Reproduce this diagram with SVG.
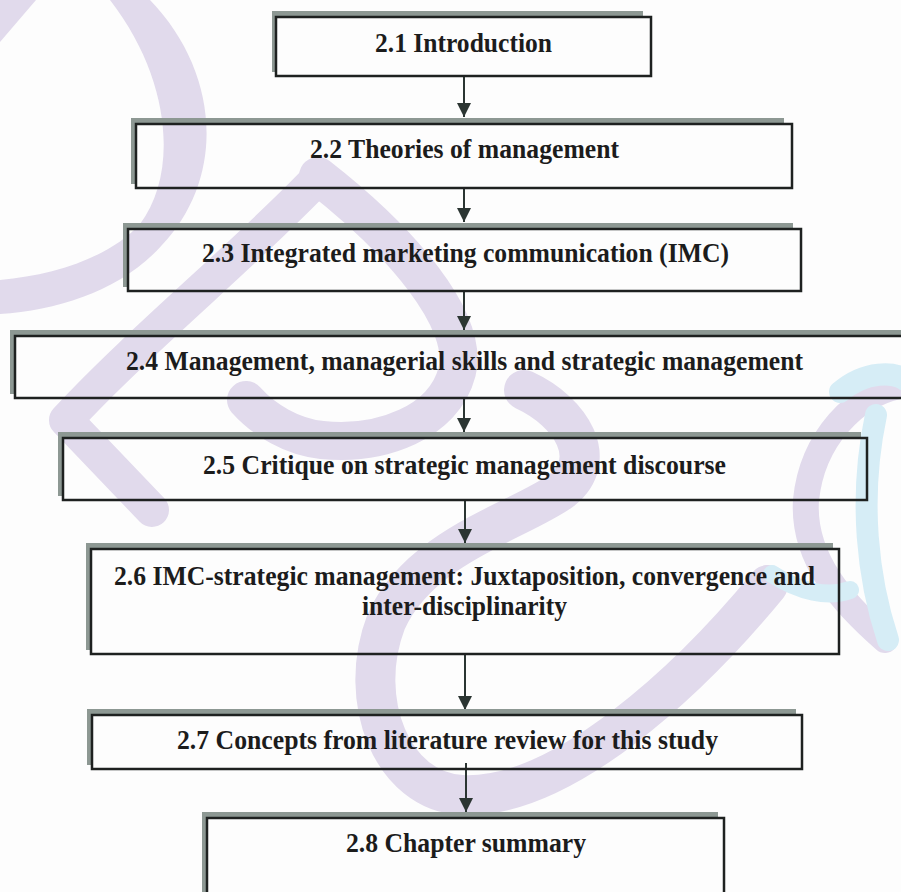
<svg xmlns="http://www.w3.org/2000/svg" width="901" height="892" viewBox="0 0 901 892">
  <defs>
    <marker id="head" markerUnits="userSpaceOnUse" markerWidth="14" markerHeight="14" refX="14" refY="7" orient="auto">
      <path d="M0,0 L14,7 L0,14 Z" fill="#2b3532"/>
    </marker>
    <style>
      .wm { fill: none; stroke: #e1daec; stroke-linecap: round; stroke-linejoin: round; }
      .wmf { fill: #e1daec; }
      .wb { fill: none; stroke: #d6edf6; stroke-linecap: round; stroke-linejoin: round; }
      .shadow { fill: none; stroke: #8d9893; stroke-width: 5; }
      .box { fill: none; stroke: #1e2120; stroke-width: 2.5; }
      .label { font-family: "Liberation Serif", "Times New Roman", serif; font-weight: bold; font-size: 26.5px; fill: #1c1c1c; }
      .link { stroke: #2b3532; stroke-width: 2; fill: none; marker-end: url(#head); }
    </style>
  </defs>

  <rect width="901" height="892" fill="#fdfdfd"/>

  <!-- background watermark strokes -->
  <g id="watermark">
    <path class="wmf" d="M0,0 L36,0 L0,42 Z"/>
    <path class="wmf" d="M110,0 L150,0 C218,70 228,175 162,245 C122,290 60,310 0,314 L0,280 C55,275 110,257 140,224 C178,174 172,80 110,0 Z"/>
    <path class="wm" stroke-width="34" d="M318,178 C250,250 140,340 66,420 L152,510"/>
    <path class="wm" stroke-width="38" d="M318,176 C400,240 470,320 457,372 C444,422 382,446 322,440 C292,437 264,420 246,400"/>
    <path class="wm" stroke-width="40" d="M524,390 C572,412 600,460 562,490 C522,520 420,545 386,622 C356,700 392,792 462,795 C562,800 690,680 768,585"/>
    <path class="wm" stroke-width="26" d="M905,385 C855,392 812,440 806,500 C802,560 845,605 885,640"/>
    <path class="wb" stroke-width="22" d="M840,392 C866,370 895,372 905,380"/>
    <path class="wb" stroke-width="22" d="M876,415 C858,500 868,580 888,640"/>
    <path class="wb" stroke-width="18" d="M772,574 C800,592 828,598 850,590"/>
  </g>

  <!-- connectors -->
  <g id="connectors">
    <line class="link" x1="464" y1="76" x2="464" y2="117"/>
    <line class="link" x1="464" y1="188" x2="464" y2="222"/>
    <line class="link" x1="464" y1="291" x2="464" y2="330"/>
    <line class="link" x1="464" y1="398" x2="464" y2="432"/>
    <line class="link" x1="465" y1="500" x2="465" y2="543"/>
    <line class="link" x1="465" y1="654" x2="465" y2="710"/>
    <line class="link" x1="466" y1="763" x2="466" y2="812"/>
  </g>

  <g id="n21">
    <path class="shadow" d="M274.5,72 V13.5 H643"/>
    <rect class="box" x="276" y="17" width="375" height="59"/>
    <text class="label" x="375" y="52" textLength="177" lengthAdjust="spacingAndGlyphs">2.1 Introduction</text>
  </g>

  <g id="n22">
    <path class="shadow" d="M133.5,184 V120.5 H784"/>
    <rect class="box" x="136" y="124" width="656" height="64"/>
    <text class="label" x="310" y="158" textLength="309" lengthAdjust="spacingAndGlyphs">2.2 Theories of management</text>
  </g>

  <g id="n23">
    <path class="shadow" d="M125.5,287 V225.5 H793"/>
    <rect class="box" x="128" y="229" width="673" height="62"/>
    <text class="label" x="202" y="262" textLength="527" lengthAdjust="spacingAndGlyphs">2.3 Integrated marketing communication (IMC)</text>
  </g>

  <g id="n24">
    <path class="shadow" d="M12.5,394 V332.5 H905"/>
    <rect class="box" x="15" y="336" width="900" height="62"/>
    <text class="label" x="126" y="370" textLength="677" lengthAdjust="spacingAndGlyphs">2.4 Management, managerial skills and strategic management</text>
  </g>

  <g id="n25">
    <path class="shadow" d="M60.5,496 V434.5 H861"/>
    <rect class="box" x="63" y="438" width="804" height="62"/>
    <text class="label" x="203" y="474" textLength="523" lengthAdjust="spacingAndGlyphs">2.5 Critique on strategic management discourse</text>
  </g>

  <g id="n26">
    <path class="shadow" d="M88.5,650 V545.5 H833"/>
    <rect class="box" x="91" y="549" width="748" height="105"/>
    <text class="label" x="114" y="585" textLength="701" lengthAdjust="spacingAndGlyphs">2.6 IMC-strategic management: Juxtaposition, convergence and</text>
    <text class="label" x="362" y="615" textLength="205" lengthAdjust="spacingAndGlyphs">inter-disciplinarity</text>
  </g>

  <g id="n27">
    <path class="shadow" d="M89.5,765 V711.5 H796"/>
    <rect class="box" x="92" y="715" width="710" height="54"/>
    <text class="label" x="177" y="749" textLength="541" lengthAdjust="spacingAndGlyphs">2.7 Concepts from literature review for this study</text>
  </g>

  <g id="n28">
    <path class="shadow" d="M204.5,900 V814.5 H718"/>
    <rect class="box" x="207" y="818" width="517" height="90"/>
    <text class="label" x="346" y="852" textLength="240" lengthAdjust="spacingAndGlyphs">2.8 Chapter summary</text>
  </g>
</svg>
